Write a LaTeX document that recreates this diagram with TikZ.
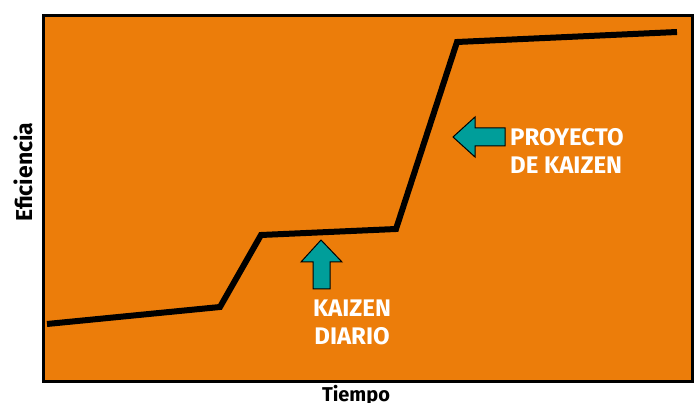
\documentclass[tikz,border=0pt]{standalone}
\usepackage{fontspec}
\setmainfont{Fira Sans}
\definecolor{bgorange}{HTML}{EC7D0A}
\definecolor{arrowteal}{HTML}{009E9A}
\begin{document}
\begin{tikzpicture}[x=1pt,y=-1pt,
  curve/.style={line width=6pt, line join=miter, line cap=butt},
  fatarrow/.style={fill=arrowteal, draw=black, line width=1pt, line join=miter},
  label/.style={text=white, font=\bfseries\fontsize{24}{28}\selectfont, align=center, inner sep=0pt},
  axislabel/.style={text=black, font=\bfseries, inner sep=0pt}]
\useasboundingbox (0,0) rectangle (694,403);
\fill[white] (0,0) rectangle (694,403);
\node[draw=black, line width=3pt, fill=bgorange, minimum width=649pt, minimum height=366pt, inner sep=0pt, anchor=north west] (frame) at (41.5,14.5) {};
\coordinate (p0) at (47,324);
\coordinate (p1) at (220,307);
\coordinate (p2) at (261,235);
\coordinate (p3) at (396,229);
\coordinate (p4) at (457,42);
\coordinate (p5) at (677,32);
\draw[curve] (p0) -- (p1) -- (p2) -- (p3) -- (p4) -- (p5);
% up arrow
\draw[fatarrow] (321,240) -- (342,262) -- (330,262) -- (330,289) -- (313,289) -- (313,262) -- (301,262) -- cycle;
% left arrow
\draw[fatarrow] (453,137) -- (475,117) -- (475,128) -- (505,128) -- (505,146) -- (475,146) -- (475,157) -- cycle;
\node[label] (kd) at (352,322) {KAIZEN\\DIARIO};
\node[label, align=left, anchor=west] (pk) at (510,151) {PROYECTO\\DE KAIZEN};
\node[axislabel, rotate=90, font=\bfseries\fontsize{23}{26}\selectfont] (ef) at (23,172) {Eficiencia};
\node[axislabel, anchor=base, font=\bfseries\fontsize{20}{24}\selectfont] (ti) at (356,402) {Tiempo};
\end{tikzpicture}
\end{document}
